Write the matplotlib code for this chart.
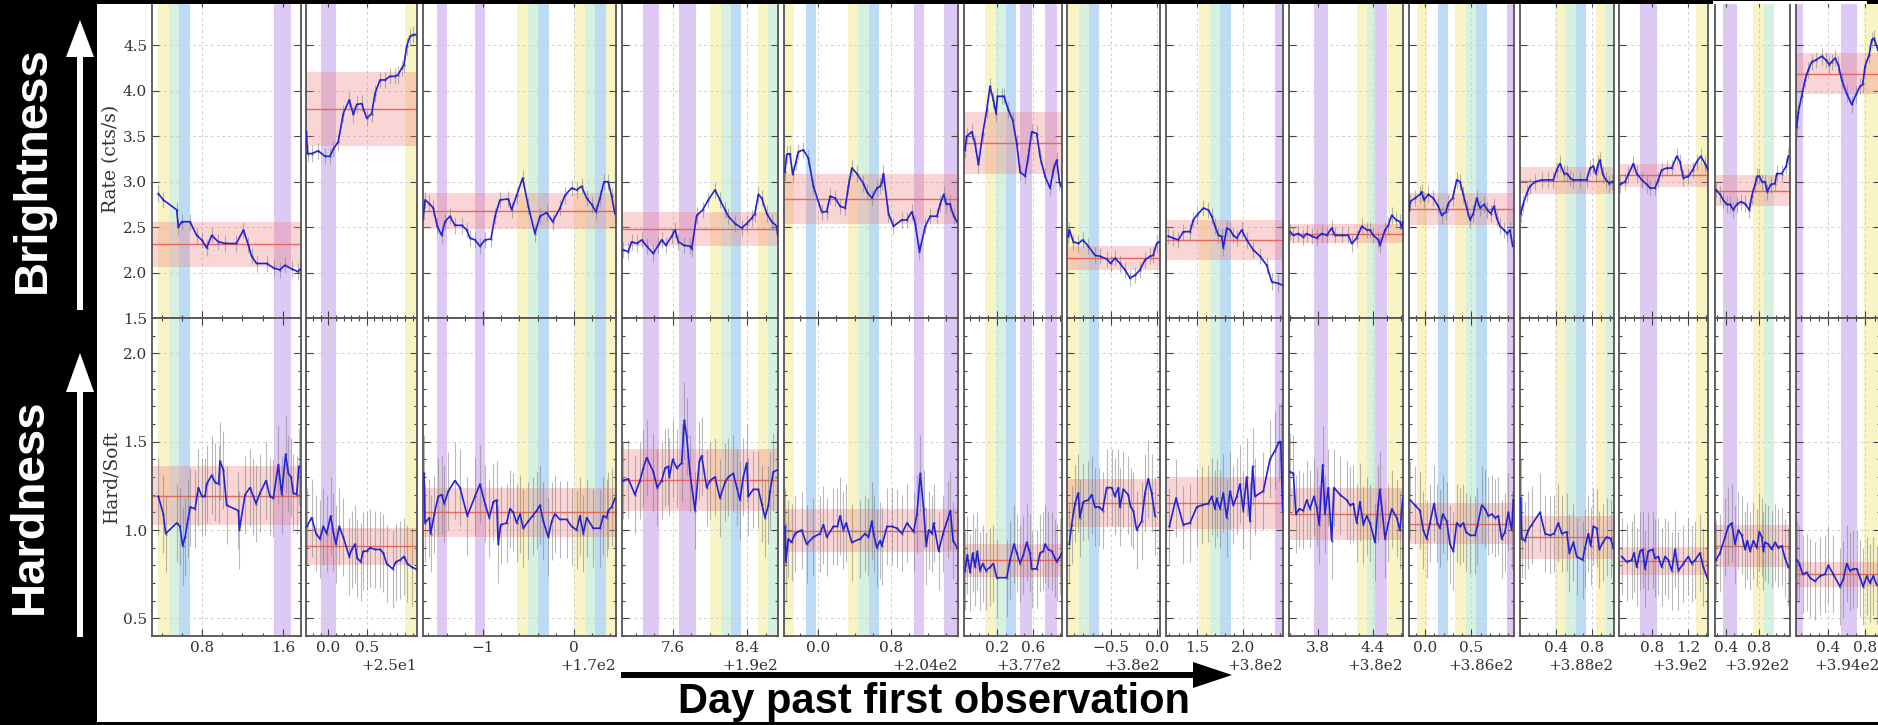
import numpy as np
import matplotlib.pyplot as plt
from matplotlib.patches import Rectangle, FancyArrow
from matplotlib.ticker import ScalarFormatter, AutoMinorLocator, MultipleLocator
from matplotlib.transforms import Affine2D

plt.rcParams['font.family'] = 'serif'
plt.rcParams['font.serif'] = ['DejaVu Serif']

# day offset of each panel, x range and major ticks (days relative to the offset)
offsets = [0, 25, 170, 190, 204, 377, 380, 380, 380, 386, 388, 390, 392, 394]
xlims = [(0.305, 1.78), (-0.29, 1.155), (-1.659, 0.462), (7.049, 8.735), (-0.373, 1.534),
         (-0.167, 0.922), (-0.978, 0.033), (1.163, 2.435), (3.484, 4.727), (-0.177, 0.964),
         (0.0, 1.044), (0.433, 1.422), (0.271, 1.174), (0.051, 0.959)]
xticks = [(0.8, 1.6), (0.0, 0.5), (-1, 0), (7.6, 8.4), (0.0, 0.8), (0.2, 0.6), (-0.5, 0.0),
          (1.5, 2.0), (3.8, 4.4), (0.0, 0.5), (0.4, 0.8), (0.8, 1.2), (0.4, 0.8), (0.4, 0.8)]

# count rate (cts/s)
rate_t = [
    [0.367, 0.417, 0.55, 0.565, 0.60, 0.68, 0.747, 0.797, 0.846, 0.896, 0.96, 1.03, 1.14, 1.21, 1.26, 1.29, 1.34, 1.44, 1.51, 1.57, 1.62, 1.69, 1.75, 1.775],
    [-0.285, -0.27, -0.216, -0.13, -0.043, 0.022, 0.065, 0.13, 0.195, 0.273, 0.326, 0.37, 0.435, 0.5, 0.565, 0.608, 0.673, 0.738, 0.803, 0.868, 0.911, 0.956, 0.986, 1.02, 1.064, 1.107, 1.14],
    [-1.656, -1.637, -1.59, -1.546, -1.502, -1.454, -1.418, -1.363, -1.308, -1.234, -1.179, -1.143, -1.088, -1.033, -0.978, -0.912, -0.868, -0.813, -0.722, -0.685, -0.63, -0.564, -0.502, -0.429, -0.374, -0.30, -0.234, -0.154, -0.099, -0.026, 0.029, 0.084, 0.139, 0.194, 0.242, 0.286, 0.33, 0.377, 0.414, 0.45],
    [7.063, 7.117, 7.153, 7.208, 7.262, 7.316, 7.387, 7.441, 7.478, 7.524, 7.586, 7.622, 7.657, 7.719, 7.784, 7.802, 7.856, 7.921, 7.982, 8.054, 8.108, 8.162, 8.198, 8.27, 8.343, 8.397, 8.451, 8.486, 8.522, 8.559, 8.613, 8.667, 8.721, 8.732],
    [-0.363, -0.344, -0.308, -0.278, -0.242, -0.216, -0.161, -0.106, -0.051, 0.04, 0.095, 0.132, 0.187, 0.242, 0.297, 0.333, 0.37, 0.425, 0.498, 0.535, 0.59, 0.645, 0.681, 0.70, 0.717, 0.772, 0.827, 0.918, 0.973, 1.028, 1.065, 1.112, 1.175, 1.23, 1.303, 1.34, 1.377, 1.407, 1.443, 1.487, 1.524],
    [-0.156, -0.137, -0.081, -0.044, -0.007, 0.041, 0.086, 0.122, 0.159, 0.189, 0.204, 0.252, 0.278, 0.326, 0.374, 0.419, 0.456, 0.511, 0.548, 0.585, 0.641, 0.678, 0.733, 0.789, 0.826, 0.863, 0.892, 0.911],
    [-0.964, -0.953, -0.909, -0.855, -0.808, -0.746, -0.674, -0.62, -0.547, -0.504, -0.457, -0.402, -0.348, -0.293, -0.239, -0.185, -0.13, -0.076, -0.04, -0.004, 0.025],
    [1.188, 1.242, 1.297, 1.351, 1.424, 1.46, 1.497, 1.569, 1.623, 1.66, 1.696, 1.732, 1.768, 1.786, 1.823, 1.859, 1.895, 1.932, 1.986, 2.04, 2.112, 2.185, 2.258, 2.312, 2.384, 2.432],
    [3.495, 3.531, 3.585, 3.64, 3.677, 3.731, 3.786, 3.84, 3.895, 3.949, 3.985, 4.058, 4.13, 4.167, 4.222, 4.277, 4.331, 4.367, 4.403, 4.458, 4.476, 4.531, 4.567, 4.604, 4.651, 4.694, 4.713, 4.724],
    [-0.174, -0.166, -0.112, -0.058, -0.04, -0.014, 0.033, 0.087, 0.141, 0.178, 0.225, 0.25, 0.298, 0.341, 0.377, 0.413, 0.45, 0.486, 0.522, 0.559, 0.595, 0.638, 0.674, 0.711, 0.747, 0.776, 0.812, 0.855, 0.891, 0.92, 0.95],
    [0.008, 0.037, 0.074, 0.111, 0.167, 0.241, 0.314, 0.37, 0.407, 0.444, 0.489, 0.526, 0.556, 0.593, 0.667, 0.741, 0.778, 0.814, 0.844, 0.87, 0.889, 0.919, 0.956, 0.992, 1.019, 1.037],
    [0.444, 0.5, 0.537, 0.593, 0.63, 0.686, 0.741, 0.778, 0.833, 0.87, 0.907, 0.963, 1.019, 1.074, 1.111, 1.148, 1.204, 1.252, 1.296, 1.341, 1.389, 1.42],
    [0.283, 0.331, 0.371, 0.412, 0.452, 0.492, 0.533, 0.581, 0.633, 0.684, 0.713, 0.753, 0.781, 0.805, 0.834, 0.873, 0.901, 0.942, 0.994, 1.014, 1.075, 1.127, 1.154],
    [0.058, 0.076, 0.112, 0.148, 0.184, 0.221, 0.267, 0.328, 0.375, 0.411, 0.437, 0.472, 0.508, 0.545, 0.599, 0.653, 0.70, 0.743, 0.772, 0.797, 0.843, 0.869, 0.894, 0.937],
]
rate_v = [
    [2.87, 2.80, 2.69, 2.50, 2.56, 2.56, 2.41, 2.36, 2.27, 2.41, 2.34, 2.32, 2.32, 2.47, 2.30, 2.18, 2.10, 2.10, 2.05, 2.03, 2.08, 2.04, 2.01, 2.04],
    [3.55, 3.31, 3.31, 3.34, 3.28, 3.28, 3.36, 3.44, 3.75, 3.90, 3.74, 3.85, 3.86, 3.70, 3.75, 3.97, 4.12, 4.12, 4.16, 4.16, 4.18, 4.25, 4.29, 4.49, 4.60, 4.62, 4.62],
    [2.60, 2.80, 2.76, 2.71, 2.51, 2.41, 2.56, 2.62, 2.52, 2.52, 2.47, 2.38, 2.36, 2.29, 2.36, 2.37, 2.62, 2.80, 2.81, 2.69, 2.85, 3.04, 2.73, 2.43, 2.62, 2.66, 2.56, 2.71, 2.85, 2.93, 2.91, 2.95, 2.82, 2.75, 2.67, 2.82, 3.00, 3.00, 2.84, 2.65],
    [2.25, 2.23, 2.34, 2.32, 2.36, 2.29, 2.21, 2.30, 2.36, 2.30, 2.40, 2.47, 2.34, 2.30, 2.29, 2.26, 2.63, 2.69, 2.80, 2.91, 2.80, 2.69, 2.62, 2.54, 2.49, 2.54, 2.60, 2.65, 2.86, 2.82, 2.65, 2.56, 2.51, 2.41],
    [3.11, 3.30, 3.31, 3.08, 3.22, 3.33, 3.35, 3.26, 2.95, 2.67, 2.67, 2.84, 2.82, 2.73, 2.71, 2.95, 3.15, 3.09, 2.98, 2.89, 2.82, 2.93, 2.95, 3.00, 3.09, 2.65, 2.51, 2.58, 2.58, 2.67, 2.54, 2.23, 2.51, 2.62, 2.62, 2.76, 2.86, 2.75, 2.76, 2.62, 2.56],
    [3.35, 3.50, 3.55, 3.42, 3.19, 3.53, 3.79, 4.05, 3.90, 3.75, 3.94, 3.94, 3.94, 3.79, 3.68, 3.42, 3.11, 3.06, 3.28, 3.55, 3.53, 3.28, 3.06, 2.93, 3.13, 3.24, 3.00, 2.95],
    [2.40, 2.47, 2.34, 2.32, 2.36, 2.29, 2.19, 2.18, 2.15, 2.10, 2.16, 2.10, 2.03, 1.94, 1.97, 2.03, 2.14, 2.18, 2.19, 2.32, 2.34],
    [2.40, 2.38, 2.36, 2.45, 2.45, 2.58, 2.63, 2.71, 2.69, 2.62, 2.51, 2.41, 2.40, 2.27, 2.49, 2.47, 2.41, 2.38, 2.47, 2.36, 2.25, 2.18, 2.08, 1.90, 1.88, 1.86],
    [2.45, 2.41, 2.43, 2.39, 2.43, 2.40, 2.38, 2.43, 2.41, 2.49, 2.41, 2.41, 2.41, 2.32, 2.38, 2.51, 2.47, 2.47, 2.41, 2.36, 2.30, 2.47, 2.52, 2.63, 2.58, 2.56, 2.49, 2.56],
    [2.69, 2.78, 2.82, 2.86, 2.89, 2.80, 2.86, 2.82, 2.73, 2.63, 2.67, 2.76, 2.82, 3.02, 3.00, 2.86, 2.71, 2.58, 2.65, 2.82, 2.71, 2.75, 2.69, 2.65, 2.73, 2.60, 2.51, 2.47, 2.43, 2.47, 2.29],
    [2.65, 2.76, 2.87, 2.95, 3.00, 3.02, 3.02, 3.02, 3.13, 3.20, 3.09, 3.09, 3.04, 3.02, 3.02, 3.02, 3.15, 3.17, 3.09, 3.20, 3.24, 3.08, 3.02, 2.98, 3.00, 3.00],
    [2.97, 3.00, 3.08, 3.20, 3.09, 3.02, 2.97, 2.93, 2.93, 3.02, 3.13, 3.15, 3.15, 3.28, 3.22, 3.04, 3.06, 3.13, 3.22, 3.28, 3.20, 3.13],
    [2.91, 2.86, 2.80, 2.75, 2.75, 2.69, 2.75, 2.78, 2.76, 2.69, 2.84, 2.97, 3.06, 3.06, 3.00, 3.00, 2.89, 2.97, 2.98, 3.09, 3.09, 3.17, 3.28],
    [3.60, 3.77, 3.94, 4.12, 4.23, 4.32, 4.34, 4.38, 4.34, 4.29, 4.32, 4.36, 4.29, 4.12, 3.97, 3.85, 3.96, 4.05, 4.07, 4.27, 4.40, 4.56, 4.58, 4.45],
]
rate_mean = [2.31, 3.80, 2.68, 2.48, 2.81, 3.43, 2.16, 2.36, 2.43, 2.70, 3.01, 3.07, 2.90, 4.19]
rate_sd = [0.25, 0.405, 0.20, 0.19, 0.27, 0.34, 0.137, 0.22, 0.107, 0.18, 0.147, 0.128, 0.171, 0.23]
rate_err = 0.09

# hardness ratio (hard/soft)
hard_t = [
    [0.368, 0.417, 0.44, 0.55, 0.582, 0.609, 0.632, 0.665, 0.683, 0.731, 0.764, 0.80, 0.83, 0.846, 0.896, 0.929, 0.965, 0.978, 1.011, 1.044, 1.16, 1.17, 1.226, 1.275, 1.308, 1.335, 1.374, 1.434, 1.473, 1.506, 1.556, 1.589, 1.628, 1.655, 1.681, 1.704, 1.737, 1.76],
    [-0.28, -0.216, -0.16, -0.108, -0.065, -0.021, 0.031, 0.065, 0.1, 0.143, 0.195, 0.273, 0.305, 0.348, 0.378, 0.422, 0.456, 0.5, 0.543, 0.608, 0.673, 0.716, 0.76, 0.838, 0.88, 0.934, 0.986, 1.03, 1.086, 1.14],
    [-1.648, -1.637, -1.59, -1.575, -1.535, -1.491, -1.454, -1.425, -1.381, -1.308, -1.253, -1.172, -1.088, -1.033, -0.978, -0.931, -0.886, -0.85, -0.832, -0.806, -0.74, -0.703, -0.667, -0.63, -0.593, -0.557, -0.502, -0.454, -0.41, -0.374, -0.337, -0.282, -0.245, -0.209, -0.154, -0.08, -0.026, 0.029, 0.066, 0.103, 0.139, 0.212, 0.286, 0.322, 0.359, 0.377, 0.414, 0.45],
    [7.056, 7.117, 7.189, 7.243, 7.279, 7.316, 7.387, 7.43, 7.478, 7.514, 7.549, 7.56, 7.597, 7.64, 7.694, 7.722, 7.748, 7.784, 7.838, 7.885, 7.91, 7.964, 8.0, 8.054, 8.108, 8.162, 8.198, 8.252, 8.289, 8.324, 8.36, 8.397, 8.414, 8.468, 8.522, 8.559, 8.595, 8.631, 8.649, 8.685, 8.728],
    [-0.363, -0.352, -0.326, -0.29, -0.253, -0.18, -0.125, -0.051, 0.022, 0.059, 0.095, 0.168, 0.212, 0.242, 0.278, 0.308, 0.37, 0.462, 0.516, 0.553, 0.59, 0.608, 0.645, 0.681, 0.70, 0.755, 0.81, 0.865, 0.92, 0.975, 1.047, 1.084, 1.121, 1.157, 1.187, 1.212, 1.249, 1.267, 1.322, 1.37, 1.42, 1.45, 1.48, 1.524],
    [-0.156, -0.13, -0.1, -0.07, -0.044, -0.019, 0.011, 0.041, 0.078, 0.122, 0.159, 0.197, 0.308, 0.344, 0.389, 0.419, 0.456, 0.493, 0.53, 0.567, 0.585, 0.641, 0.678, 0.715, 0.733, 0.77, 0.808, 0.844, 0.863, 0.9, 0.919],
    [-0.953, -0.928, -0.891, -0.855, -0.837, -0.801, -0.746, -0.71, -0.674, -0.627, -0.59, -0.547, -0.493, -0.457, -0.42, -0.402, -0.366, -0.312, -0.286, -0.257, -0.221, -0.167, -0.13, -0.094, -0.058, -0.022],
    [1.199, 1.272, 1.351, 1.424, 1.497, 1.551, 1.623, 1.66, 1.696, 1.714, 1.75, 1.786, 1.823, 1.859, 1.895, 1.932, 1.967, 2.003, 2.04, 2.076, 2.105, 2.13, 2.221, 2.293, 2.348, 2.395, 2.41, 2.432],
    [3.495, 3.531, 3.56, 3.596, 3.64, 3.677, 3.713, 3.756, 3.786, 3.814, 3.851, 3.876, 3.912, 3.949, 3.974, 4.04, 4.113, 4.149, 4.185, 4.222, 4.258, 4.294, 4.331, 4.367, 4.422, 4.458, 4.476, 4.531, 4.567, 4.604, 4.658, 4.694, 4.724],
    [-0.166, -0.112, -0.058, -0.022, 0.015, 0.051, 0.095, 0.13, 0.16, 0.189, 0.233, 0.268, 0.304, 0.341, 0.377, 0.413, 0.442, 0.486, 0.54, 0.565, 0.613, 0.649, 0.685, 0.722, 0.758, 0.793, 0.83, 0.866, 0.902, 0.939, 0.957],
    [0.008, 0.019, 0.056, 0.092, 0.13, 0.222, 0.278, 0.333, 0.378, 0.426, 0.463, 0.519, 0.548, 0.593, 0.63, 0.696, 0.722, 0.759, 0.785, 0.814, 0.852, 0.881, 0.919, 0.963, 1.007, 1.037],
    [0.463, 0.519, 0.574, 0.6, 0.63, 0.667, 0.696, 0.722, 0.759, 0.807, 0.833, 0.87, 0.907, 0.944, 0.981, 1.019, 1.056, 1.093, 1.148, 1.204, 1.241, 1.278, 1.333, 1.37, 1.42],
    [0.283, 0.331, 0.392, 0.432, 0.472, 0.512, 0.552, 0.593, 0.633, 0.661, 0.693, 0.733, 0.773, 0.805, 0.834, 0.853, 0.873, 0.913, 0.954, 0.994, 1.034, 1.075, 1.114, 1.154],
    [0.058, 0.087, 0.123, 0.166, 0.202, 0.256, 0.31, 0.364, 0.4, 0.454, 0.526, 0.562, 0.599, 0.634, 0.67, 0.707, 0.743, 0.778, 0.815, 0.851, 0.887, 0.923],
]
hard_v = [
    [1.19, 1.09, 0.98, 1.04, 1.02, 0.91, 0.96, 1.07, 1.13, 1.12, 1.24, 1.19, 1.19, 1.26, 1.31, 1.27, 1.26, 1.39, 1.34, 1.14, 1.11, 1.00, 1.20, 1.24, 1.19, 1.15, 1.21, 1.28, 1.19, 1.18, 1.37, 1.20, 1.43, 1.32, 1.30, 1.21, 1.20, 1.36],
    [1.02, 1.07, 0.98, 0.95, 1.02, 0.98, 1.08, 0.99, 0.92, 1.02, 0.96, 0.85, 0.89, 0.92, 0.84, 0.82, 0.88, 0.88, 0.90, 0.89, 0.89, 0.87, 0.81, 0.78, 0.82, 0.83, 0.85, 0.81, 0.79, 0.78],
    [1.32, 1.04, 1.07, 0.98, 1.09, 1.19, 1.20, 1.15, 1.22, 1.28, 1.24, 1.08, 1.19, 1.26, 1.15, 1.07, 1.16, 1.17, 0.92, 1.03, 1.04, 1.12, 1.10, 1.04, 1.09, 1.01, 1.05, 1.08, 1.11, 1.14, 1.05, 0.96, 1.05, 1.09, 1.06, 1.06, 1.02, 1.00, 1.08, 0.98, 1.07, 1.01, 1.01, 1.08, 1.07, 1.11, 1.13, 1.18],
    [1.28, 1.29, 1.20, 1.28, 1.35, 1.41, 1.33, 1.24, 1.28, 1.35, 1.36, 1.30, 1.40, 1.35, 1.38, 1.62, 1.53, 1.32, 1.11, 1.39, 1.42, 1.24, 1.28, 1.30, 1.18, 1.27, 1.30, 1.32, 1.24, 1.17, 1.30, 1.38, 1.19, 1.23, 1.23, 1.15, 1.07, 1.14, 1.22, 1.33, 1.34],
    [1.02, 0.82, 0.95, 0.93, 0.98, 1.00, 0.92, 0.96, 0.98, 1.03, 0.96, 1.02, 1.02, 1.08, 1.00, 1.04, 0.93, 0.95, 0.98, 0.96, 1.05, 0.98, 0.90, 0.94, 0.91, 1.02, 1.02, 1.01, 0.98, 1.04, 0.99, 1.09, 1.32, 1.12, 0.91, 1.00, 0.98, 1.04, 0.88, 0.98, 1.06, 1.11, 0.94, 0.90],
    [0.77, 0.86, 0.76, 0.87, 0.79, 0.88, 0.77, 0.81, 0.77, 0.79, 0.81, 0.73, 0.73, 0.83, 0.92, 0.87, 0.81, 0.86, 0.93, 0.87, 0.78, 0.78, 0.87, 0.88, 0.92, 0.89, 0.88, 0.84, 0.82, 0.85, 0.87],
    [0.92, 1.03, 1.15, 1.21, 1.07, 1.16, 1.17, 1.20, 1.13, 1.13, 1.11, 1.24, 1.24, 1.19, 1.24, 1.13, 1.23, 1.20, 1.13, 1.11, 1.00, 1.05, 1.21, 1.29, 1.21, 1.08],
    [1.02, 1.18, 1.03, 1.04, 1.13, 1.14, 1.15, 1.19, 1.12, 1.18, 1.12, 1.21, 1.07, 1.22, 1.14, 1.19, 1.26, 1.11, 1.30, 1.05, 1.36, 1.19, 1.22, 1.40, 1.45, 1.50, 1.50, 1.11],
    [1.33, 1.32, 1.09, 1.12, 1.11, 1.17, 1.12, 1.19, 1.13, 1.03, 1.37, 1.09, 1.24, 0.94, 1.24, 1.20, 1.17, 1.14, 1.15, 1.04, 1.16, 1.03, 1.08, 1.04, 0.93, 1.15, 1.23, 0.95, 1.04, 1.12, 1.07, 1.00, 1.18],
    [1.17, 1.14, 1.11, 1.00, 0.95, 1.04, 1.15, 1.04, 1.01, 1.09, 1.05, 0.92, 0.88, 1.04, 1.02, 1.04, 0.99, 0.97, 0.97, 1.02, 1.14, 1.12, 1.08, 1.09, 1.07, 1.08, 0.95, 0.99, 1.10, 1.00, 1.17],
    [1.18, 0.95, 0.94, 1.00, 1.03, 1.10, 0.98, 0.97, 0.98, 1.04, 0.98, 0.99, 0.87, 0.93, 0.85, 0.83, 0.90, 0.98, 0.91, 1.02, 1.01, 0.89, 0.93, 0.96, 0.95, 0.90],
    [0.85, 0.82, 0.83, 0.87, 0.79, 0.88, 0.89, 0.78, 0.88, 0.89, 0.84, 0.85, 0.79, 0.85, 0.83, 0.77, 0.89, 0.77, 0.81, 0.85, 0.81, 0.83, 0.87, 0.79, 0.72],
    [0.83, 0.87, 0.96, 1.02, 1.04, 0.92, 1.00, 0.97, 0.89, 0.94, 0.88, 0.94, 0.90, 0.99, 0.96, 0.88, 0.93, 0.92, 0.89, 0.93, 0.90, 0.91, 0.84, 0.79],
    [0.83, 0.81, 0.75, 0.76, 0.73, 0.71, 0.74, 0.75, 0.80, 0.75, 0.68, 0.72, 0.81, 0.77, 0.78, 0.78, 0.73, 0.68, 0.74, 0.70, 0.74, 0.69],
]
hard_mean = [1.195, 0.907, 1.10, 1.283, 0.997, 0.828, 1.153, 1.153, 1.091, 1.035, 0.96, 0.824, 0.912, 0.749]
hard_sd = [0.165, 0.106, 0.14, 0.177, 0.122, 0.094, 0.135, 0.148, 0.149, 0.117, 0.122, 0.079, 0.119, 0.07]
hard_err = 0.22

# shaded intervals (start, end, colour key) in relative days
spans = [
    [(0.36, 0.475, 'y'), (0.475, 0.575, 'g'), (0.575, 0.68, 'b'), (1.51, 1.68, 'p')],
    [(-0.1, 0.1, 'p'), (1.0, 1.155, 'y')],
    [(-1.509, -1.399, 'p'), (-1.088, -0.978, 'p'), (-0.623, -0.502, 'y'), (-0.502, -0.392, 'g'),
     (-0.392, -0.275, 'b'), (0.0, 0.121, 'y'), (0.121, 0.231, 'g'), (0.231, 0.348, 'b'), (0.348, 0.462, 'y')],
    [(7.272, 7.449, 'p'), (7.668, 7.849, 'p'), (8.0, 8.116, 'y'), (8.116, 8.224, 'g'), (8.224, 8.335, 'b'),
     (8.515, 8.624, 'y'), (8.624, 8.735, 'g')],
    [(-0.373, -0.264, 'y'), (-0.132, -0.022, 'b'), (0.333, 0.443, 'y'), (0.443, 0.559, 'g'), (0.559, 0.67, 'b'),
     (1.055, 1.165, 'p'), (1.385, 1.524, 'p')],
    [(0.067, 0.186, 'y'), (0.186, 0.297, 'g'), (0.297, 0.408, 'b'), (0.456, 0.585, 'p'), (0.733, 0.863, 'p')],
    [(-0.964, -0.848, 'y'), (-0.848, -0.736, 'g'), (-0.736, -0.627, 'b')],
    [(1.525, 1.641, 'y'), (1.641, 1.75, 'g'), (1.75, 1.866, 'b'), (2.348, 2.435, 'p')],
    [(3.756, 3.906, 'p'), (4.222, 4.33, 'y'), (4.33, 4.42, 'g'), (4.42, 4.55, 'p'), (4.56, 4.727, 'y')],
    [(-0.094, 0.015, 'y'), (0.141, 0.25, 'b'), (0.323, 0.442, 'y'), (0.442, 0.551, 'g'), (0.551, 0.667, 'b'),
     (0.891, 0.964, 'p')],
    [(0.389, 0.5, 'y'), (0.5, 0.622, 'g'), (0.622, 0.733, 'b'), (0.844, 0.956, 'y'), (0.956, 1.044, 'g')],
    [(0.667, 0.859, 'p'), (1.289, 1.422, 'y')],
    [(0.371, 0.54, 'p'), (0.733, 0.862, 'y'), (0.862, 0.986, 'g')],
    [(0.05, 0.13, 'p'), (0.537, 0.707, 'p'), (0.786, 0.959, 'y')],
]

span_colors = {'y': '#f8f4c6', 'g': '#d7f1e1', 'b': '#bddcf4', 'p': '#ddc9f4'}

# panel edges in pixels
panel_px = [(152, 301), (306, 417), (423, 616), (622, 778), (784, 958), (964, 1062), (1067, 1160),
            (1166, 1283), (1289, 1403), (1409, 1514), (1520, 1614), (1619, 1708), (1715, 1790), (1796, 1880)]

W, H = 1878, 725
ROW = 318
fig = plt.figure(figsize=(W / 100, H / 100), dpi=100)
px = Affine2D().scale(1 / W, 1 / H) + fig.transFigure

for i in range(14):
    l, r = panel_px[i]
    off = offsets[i]
    for row in range(2):
        top = 0 if row == 0 else ROW
        ax = fig.add_axes([l / W, (H - top - ROW) / H, (r - l) / W, ROW / H])
        if row == 0:
            t, v, err, m, s = rate_t[i], rate_v[i], rate_err, rate_mean[i], rate_sd[i]
        else:
            t, v, err, m, s = hard_t[i], hard_v[i], hard_err, hard_mean[i], hard_sd[i]
        for a, b, c in spans[i]:
            ax.axvspan(off + a, off + b, color=span_colors[c], lw=0, zorder=0)
        ax.axhspan(m - s, m + s, color='#f08080', alpha=0.33, lw=0, zorder=1)
        ax.axhline(m, color='#e8665e', lw=1.0, zorder=2)
        tt = off + np.array(t)
        ax.errorbar(tt, v, yerr=err, fmt='.', ms=2, color='#666666', ecolor='#808080',
                    elinewidth=0.8, alpha=0.55, zorder=2)
        ax.plot(tt, v, color='#2222d6', lw=1.2, zorder=3)

        ax.set_xticks([off + k for k in xticks[i]])
        ax.set_xlim(off + xlims[i][0], off + xlims[i][1])
        ax.xaxis.set_major_formatter(ScalarFormatter(useOffset=off))
        ax.xaxis.set_minor_locator(AutoMinorLocator())
        if row == 0:
            ax.set_ylim(1.5, 5.0)
            ax.set_yticks(np.arange(1.5, 4.51, 0.5))
            ax.tick_params(labelbottom=False)
            ax.xaxis.get_offset_text().set_visible(False)
        else:
            ax.set_ylim(0.4, 2.2)
            ax.set_yticks([0.5, 1.0, 1.5, 2.0])
            ax.yaxis.set_minor_locator(MultipleLocator(0.1))
        ax.set_axisbelow(True)
        ax.grid(True, which='major', color='#d0d0d0', ls=(0, (3, 3)), lw=0.7)
        ax.tick_params(which='both', direction='in', top=True, right=True, colors='#444444',
                       labelcolor='#333333', labelsize=11, width=0.8)
        ax.tick_params(which='major', length=5)
        ax.tick_params(which='minor', length=2.5)
        ax.xaxis.get_offset_text().set_fontsize(11)
        ax.xaxis.get_offset_text().set_color('#333333')
        for sp in ax.spines.values():
            sp.set_color('#555555')
            sp.set_linewidth(1.3)
        if i == 0:
            ax.set_ylabel('Rate (cts/s)' if row == 0 else 'Hard/Soft', fontsize=13.5,
                          color='#333333', labelpad=2)
        else:
            ax.tick_params(labelleft=False)

# frame pieces of the composed figure
fig.add_artist(Rectangle((0, 0), 97, H, color='black', lw=0, transform=px, zorder=10))
fig.add_artist(Rectangle((0, H - 4), W, 4, color='black', lw=0, transform=px, zorder=10))
fig.add_artist(Rectangle((1713, H - 4), 154, 3, color='white', lw=0, transform=px, zorder=10))
fig.add_artist(Rectangle((0, 0), W, 3, color='black', lw=0, transform=px, zorder=10))

fig.text(33, H - 170, 'Brightness', transform=px, rotation=90, ha='center', va='center',
         color='white', fontsize=34, fontweight='bold', family='Liberation Sans', zorder=11)
fig.text(30, H - 506, 'Hardness', transform=px, rotation=90, ha='center', va='center',
         color='white', fontsize=34, fontweight='bold', family='Liberation Sans', zorder=11)
fig.add_artist(FancyArrow(80, H - 310, 0, 290, width=6, head_width=28, head_length=37,
                          length_includes_head=True, color='white', lw=0, transform=px, zorder=11))
fig.add_artist(FancyArrow(80, H - 637, 0, 284, width=6, head_width=28, head_length=39,
                          length_includes_head=True, color='white', lw=0, transform=px, zorder=11))

fig.add_artist(FancyArrow(621, H - 675, 611, 0, width=6, head_width=26, head_length=39,
                          length_includes_head=True, color='black', lw=0, transform=px, zorder=11))
fig.text(934, H - 713, 'Day past first observation', transform=px, ha='center', va='baseline',
         color='black', fontsize=30, fontweight='bold', family='Liberation Sans', zorder=11)

fig.savefig('out.png', dpi=100)
